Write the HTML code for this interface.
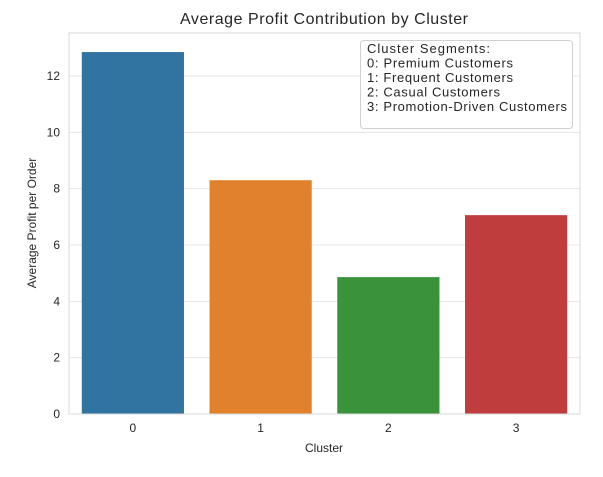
<!DOCTYPE html>
<html><head><meta charset="utf-8"><style>
body{margin:0;background:#fff;}
svg text{font-family:"Liberation Sans",Arial,sans-serif;fill:#262626;}
</style></head><body>
<svg width="603" height="472">
<g id="grid"></g>
<g id="bars"></g>
<rect x="69" y="33" width="511" height="381" fill="none" stroke="#d9d9d9" stroke-width="1"/>
<g id="yt"></g><g id="xt"></g>
<text x="324" y="24" font-size="16" text-anchor="middle" textLength="288">Average Profit Contribution by Cluster</text>
<text x="324" y="452" font-size="12" text-anchor="middle">Cluster</text>
<text transform="translate(36,223) rotate(-90)" font-size="12" text-anchor="middle">Average Profit per Order</text>
<g>
<rect x="360.5" y="40.5" width="212" height="88" rx="3" fill="#fff" fill-opacity="0.85" stroke="#d0d0d0"/>
<text x="367" y="53" font-size="13" textLength="123">Cluster Segments:</text>
<text x="367" y="67.5" font-size="13" textLength="146">0: Premium Customers</text>
<text x="367" y="82" font-size="13" textLength="146">1: Frequent Customers</text>
<text x="367" y="96.5" font-size="13" textLength="133">2: Casual Customers</text>
<text x="367" y="111" font-size="13" textLength="200">3: Promotion-Driven Customers</text>
</g>
</svg>
<script>
const categories=["0","1","2","3"];
const values=[12.85,8.3,4.86,7.06];
const colors=["#3274a1","#e1812c","#3a923a","#c03d3e"];
const yTicks=[0,2,4,6,8,10,12];
const NS="http://www.w3.org/2000/svg";
const L=69,R=580,B=414,T=76;
const y=v=>B-v*(B-T)/12;
const band=(R-L)/categories.length;
const x=i=>L+band*i;
const grid=document.getElementById('grid'),yt=document.getElementById('yt'),xt=document.getElementById('xt'),bars=document.getElementById('bars');
yTicks.forEach(t=>{
const l=document.createElementNS(NS,'line');
l.setAttribute('x1',L);l.setAttribute('x2',R);l.setAttribute('y1',y(t));l.setAttribute('y2',y(t));
l.setAttribute('stroke','#e6e6e6');


grid.appendChild(l);
const tx=document.createElementNS(NS,'text');
tx.setAttribute('x',L-9);tx.setAttribute('y',y(t)+4);tx.setAttribute('font-size','12');tx.setAttribute('text-anchor','end');
tx.textContent=t;


yt.appendChild(tx);
});
categories.forEach((c,i)=>{
const r=document.createElementNS(NS,'rect');
r.setAttribute('x',x(i)+band*0.1);r.setAttribute('width',band*0.8);
r.setAttribute('y',y(values[i]));r.setAttribute('height',B-y(values[i]));
r.setAttribute('fill',colors[i]);


bars.appendChild(r);
const tx=document.createElementNS(NS,'text');
tx.setAttribute('x',x(i)+band/2);tx.setAttribute('y',B+18);tx.setAttribute('font-size','12');tx.setAttribute('text-anchor','middle');
tx.textContent=c;


xt.appendChild(tx);
});
</script>
</body></html>
